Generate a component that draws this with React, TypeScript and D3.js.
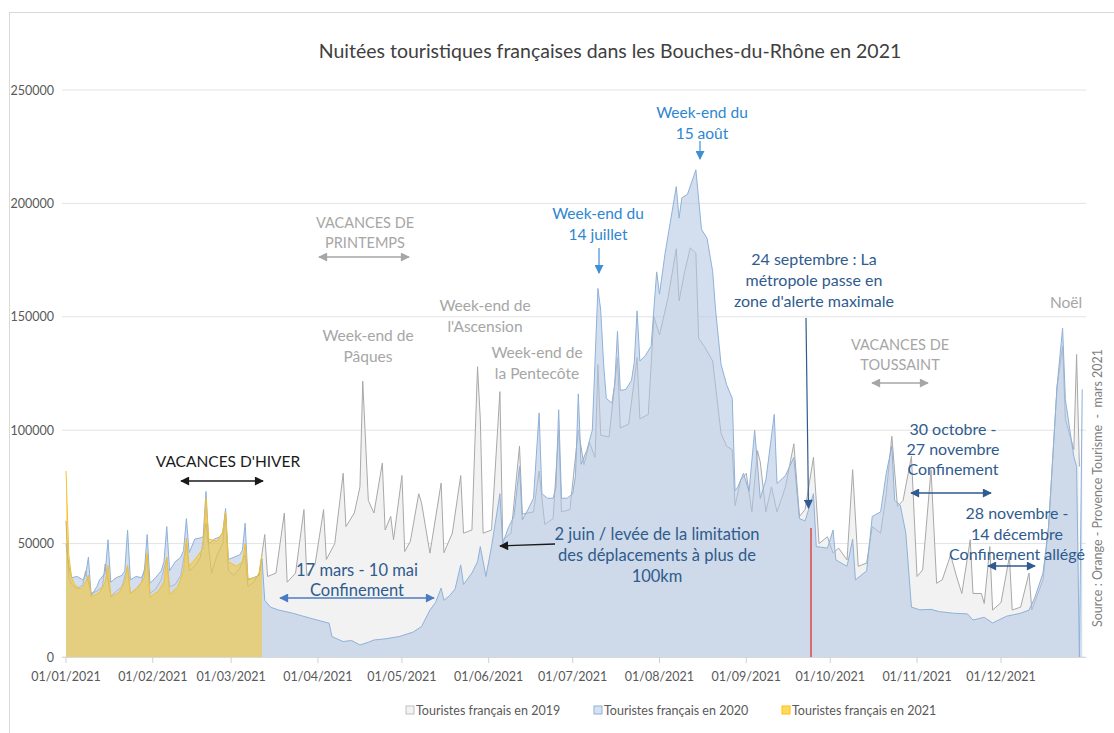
import { useMemo } from 'react';
import * as d3 from 'd3';

// [jour de l'année (0 = 01/01), nuitées]
const s2019: [number, number][] = [
  [0, 60000], [1, 35000], [2, 32000], [4, 30000], [6, 32000], [7, 38000], [9, 28000], [11, 29000], [13, 31000], [14, 41000],
  [16, 27000], [18, 29000], [20, 31000], [22, 40000], [23, 28000], [25, 30000], [27, 33000], [29, 44000], [30, 28000], [32, 30000],
  [34, 34000], [36, 44000], [37, 31000], [39, 32000], [41, 36000], [43, 50000], [44, 38000], [46, 40000], [48, 44000], [50, 59000],
  [52, 37000], [54, 45000], [56, 50000], [57, 63500], [58, 38000], [60, 36000], [62, 39000], [64, 45000], [65, 31000], [67, 33000],
  [69, 37000], [71, 54000], [72, 35500], [75, 37000], [78, 63500], [79, 33000], [82, 37000], [85, 65000], [86, 36000], [89, 41000],
  [92, 65000], [93, 43000], [96, 50000], [99, 81000], [100, 57500], [103, 63500], [105, 75000], [106, 121600], [108, 69000], [110, 63500],
  [113, 85500], [114, 56000], [116, 62000], [117, 51700], [120, 80000], [121, 46500], [123, 51000], [126, 72000], [127, 68000], [130, 45800],
  [134, 76700], [135, 46000], [138, 54600], [141, 80000], [142, 54600], [145, 56000], [147, 128000], [148, 104700], [149, 54600], [152, 56000],
  [155, 117000], [156, 51700], [159, 54600], [162, 93000], [163, 63000], [167, 64000], [169, 82000], [171, 58500], [174, 61000], [176, 100000],
  [177, 64000], [180, 65000], [183, 100000], [185, 84800], [187, 94600], [189, 88000], [190, 129000], [191, 97800], [194, 97000], [197, 132000],
  [198, 101000], [201, 102700], [204, 132000], [205, 105000], [208, 107000], [210, 150000], [212, 142000], [215, 158000], [218, 180000], [219, 157000],
  [221, 170000], [223, 180400], [225, 178000], [226, 140500], [228, 137000], [231, 130500], [233, 109000], [234, 98600], [236, 92900], [238, 91400],
  [239, 66700], [241, 78000], [243, 81000], [245, 64000], [247, 91000], [248, 86000], [250, 64000], [252, 75000], [254, 64000], [257, 75000],
  [260, 94000], [262, 62000], [264, 65000], [267, 88000], [269, 50000], [272, 53000], [274, 45800], [276, 48000], [279, 42800], [281, 82600],
  [283, 40000], [286, 41400], [288, 57500], [291, 54600], [293, 72000], [295, 97300], [297, 66400], [299, 69000], [302, 88500], [304, 35500],
  [306, 38400], [309, 82600], [311, 32500], [313, 34000], [316, 45000], [318, 36000], [320, 28000], [323, 51700], [324, 28000], [327, 28000],
  [328, 23600], [330, 48700], [331, 20700], [334, 24000], [337, 44300], [338, 20700], [341, 22000], [344, 37000], [345, 20800], [349, 34000],
  [351, 57500], [354, 119000], [356, 137000], [357, 104700], [360, 91500], [361, 133400], [362, 84000],
];

const s2020: [number, number][] = [
  [0, 50000], [1, 40000], [2, 35000], [4, 35500], [6, 34000], [7, 36000], [8, 44000], [9, 27000], [11, 31000], [12, 34000],
  [14, 37000], [15, 51700], [16, 33000], [18, 35000], [20, 36000], [21, 38000], [22, 56000], [23, 34000], [25, 35500], [27, 35000],
  [28, 38000], [29, 54000], [30, 32500], [32, 35000], [34, 38000], [35, 42000], [36, 57500], [37, 38000], [39, 42000], [41, 44000],
  [42, 47000], [43, 61000], [44, 46000], [46, 52000], [48, 52500], [49, 53000], [50, 73000], [51, 50000], [53, 52000], [55, 53000],
  [56, 55000], [57, 65500], [58, 43000], [60, 44000], [62, 45000], [63, 47000], [64, 59000], [65, 34000], [67, 35000], [69, 36000],
  [70, 43500], [71, 25000], [73, 22000], [76, 20700], [81, 19300], [87, 17200], [94, 14900], [95, 9000], [99, 6800], [102, 7300],
  [105, 5300], [108, 6500], [110, 7500], [114, 8000], [119, 9000], [124, 11000], [127, 13400], [130, 20700], [132, 24000], [134, 30400],
  [135, 25000], [137, 27000], [139, 30000], [141, 40600], [142, 32000], [145, 37000], [147, 42000], [148, 48700], [150, 35500], [152, 48700],
  [155, 72000], [156, 50000], [158, 57000], [160, 62000], [162, 84000], [163, 60500], [165, 65000], [167, 70000], [169, 107600], [170, 72000],
  [172, 70000], [174, 70000], [175, 75000], [176, 109000], [177, 70000], [179, 70000], [181, 72000], [182, 80000], [183, 116000], [184, 85000],
  [186, 91000], [188, 100000], [190, 162500], [191, 153000], [192, 130000], [193, 114000], [195, 112000], [196, 120000], [197, 143600], [198, 117500],
  [200, 118000], [202, 122000], [203, 130000], [204, 152600], [205, 130500], [207, 133000], [209, 137000], [211, 169800], [212, 160000], [214, 178000],
  [216, 192700], [218, 207400], [219, 193500], [220, 202500], [222, 204000], [225, 214800], [227, 188600], [229, 184600], [231, 170000], [232, 153500],
  [234, 129000], [236, 120000], [238, 114000], [239, 73300], [240, 75000], [242, 81000], [244, 73000], [246, 100000], [248, 70000], [250, 78000],
  [253, 107000], [254, 76500], [257, 80000], [260, 88000], [262, 61000], [264, 60000], [267, 72000], [268, 48700], [272, 48000], [274, 56000],
  [275, 42800], [279, 40000], [281, 52000], [282, 34000], [286, 38000], [288, 62000], [291, 64000], [293, 81000], [295, 93000], [296, 69000],
  [298, 67000], [300, 54600], [302, 22000], [305, 20800], [309, 21000], [312, 20000], [317, 19300], [322, 19000], [324, 16300], [328, 17500],
  [331, 15000], [336, 18000], [341, 19300], [344, 20700], [346, 26000], [349, 37000], [351, 57500], [354, 119000], [356, 145000], [357, 113500],
  [360, 88400], [361, 84000], [362, 0], [363, 118000],
];

const s2021: [number, number][] = [
  [0, 82000], [1, 45000], [2, 35000], [3, 32000], [5, 30000], [6, 31000], [7, 33000], [8, 36000], [9, 26500], [12, 28500],
  [14, 33000], [15, 40500], [16, 26500], [19, 28500], [21, 33000], [22, 40500], [23, 28000], [26, 31000], [28, 35000], [29, 46000],
  [30, 26500], [33, 29000], [35, 33000], [36, 44000], [37, 27500], [40, 31000], [42, 38000], [43, 52500], [44, 40000], [47, 44500],
  [49, 48000], [50, 70000], [51, 52000], [54, 51000], [56, 55000], [57, 64000], [58, 42000], [61, 40000], [63, 42000], [64, 50000],
  [65, 34500], [68, 35000], [69, 37000], [70, 45000],
];

const seriesNames = ['Touristes français en 2019', 'Touristes français en 2020', 'Touristes français en 2021'];
const yTicks = [0, 50000, 100000, 150000, 200000, 250000];

const FONT = 'Lato, "Open Sans", sans-serif';
const day = (d: number) => new Date(Date.UTC(2021, 0, 1 + d));

function Txt({ x, y, lines, color, size = 15.5, gap = 21 }: { x: number; y: number; lines: string[]; color: string; size?: number; gap?: number }) {
  return (
    <text x={x} y={y} textAnchor="middle" fill={color} fontSize={size} fontFamily={FONT}>
      {lines.map((l, i) => (
        <tspan key={i} x={x} dy={i === 0 ? 0 : gap}>{l}</tspan>
      ))}
    </text>
  );
}

export default function App() {
  const x = d3.scaleUtc().domain([day(0), day(364)]).range([66, 1085]);
  const y = d3.scaleLinear().domain([0, 250000]).range([657, 90]);

  const { area, line } = useMemo(() => {
    const area = d3.area<[number, number]>().x(d => x(day(d[0]))).y0(y(0)).y1(d => y(d[1]));
    const line = d3.line<[number, number]>().x(d => x(day(d[0]))).y(d => y(d[1]));
    return { area, line };
  }, []);

  const months = d3.utcMonth.range(day(0), day(365));
  const fmt = d3.utcFormat('%d/%m/%Y');

  const arrowDefs = [
    ['ar-black', '#1a1a1a'],
    ['ar-grey', '#a6a6a6'],
    ['ar-blue', '#4a7cc4'],
    ['ar-dark', '#2f5b8e'],
    ['ar-light', '#3f8fd4'],
  ];

  const dark = '#2f5b8e';
  const light = '#2e86d0';
  const grey = '#a6a6a6';

  return (
    <svg width={1114} height={733} style={{ position: 'absolute', left: 0, top: 0, background: '#fff' }}>
      <defs>
        {arrowDefs.map(([id, c]) => (
          <marker key={id} id={id} viewBox="0 0 10 10" refX="9" refY="5" markerWidth="10" markerHeight="9" markerUnits="userSpaceOnUse" orient="auto-start-reverse">
            <path d="M0,0 L10,5 L0,10 z" fill={c} />
          </marker>
        ))}
      </defs>

      <rect x={9.5} y={12.5} width={1200} height={800} fill="none" stroke="#d9d9d9" />

      <text x={610} y={58} textAnchor="middle" fontSize={19.5} fill="#404040" fontFamily={FONT}>
        Nuitées touristiques françaises dans les Bouches-du-Rhône en 2021
      </text>

      {/* grille + axe Y */}
      {yTicks.map(t => (
        <g key={t}>
          <line x1={62} x2={1086} y1={y(t)} y2={y(t)} stroke="#e3e3e3" strokeWidth={1} />
          <text x={54} y={y(t) + 4.5} textAnchor="end" fontSize={12.5} fill="#595959" fontFamily={FONT}>{d3.format('d')(t)}</text>
        </g>
      ))}

      {/* séries */}
      <path d={area(s2019) ?? ''} fill="#f2f2f2" />
      <path d={line(s2019) ?? ''} fill="none" stroke="#a8a8a8" strokeWidth={1} />
      <path d={area(s2020) ?? ''} fill="rgb(180,200,225)" fillOpacity={0.58} />
      <path d={line(s2020) ?? ''} fill="none" stroke="#8fb1da" strokeWidth={1} />
      <path d={area(s2021) ?? ''} fill="rgb(255,192,0)" fillOpacity={0.45} />
      <path d={line(s2021) ?? ''} fill="none" stroke="#f4c030" strokeWidth={1} />

      {/* axe X */}
      <line x1={62} x2={1086} y1={657.5} y2={657.5} stroke="#d9d9d9" />
      {months.map(m => (
        <g key={+m}>
          <line x1={x(m)} x2={x(m)} y1={657} y2={663} stroke="#d0d0d0" />
          <text x={x(m)} y={681} textAnchor="middle" fontSize={12.5} fill="#595959" fontFamily={FONT}>{fmt(m)}</text>
        </g>
      ))}

      {/* ligne rouge 24 septembre */}
      <line x1={811} x2={811} y1={528} y2={657} stroke="#e0302c" strokeWidth={1.3} />

      {/* annotations */}
      <text x={228} y={467} textAnchor="middle" fontSize={15.5} fill="#1a1a1a" fontFamily={FONT}>VACANCES D'HIVER</text>
      <line x1={181} x2={263} y1={481} y2={481} stroke="#1a1a1a" strokeWidth={1.3} markerStart="url(#ar-black)" markerEnd="url(#ar-black)" />

      <Txt x={365} y={228} lines={['VACANCES DE', 'PRINTEMPS']} color={grey} size={14.5} gap={20} />
      <line x1={319} x2={409} y1={257} y2={257} stroke={grey} strokeWidth={1.3} markerStart="url(#ar-grey)" markerEnd="url(#ar-grey)" />

      <Txt x={368} y={341} lines={['Week-end de', 'Pâques']} color={grey} />
      <Txt x={485} y={311} lines={['Week-end de', "l'Ascension"]} color={grey} />
      <Txt x={537} y={358} lines={['Week-end de', 'la Pentecôte']} color={grey} />

      <Txt x={598} y={219} lines={['Week-end du', '14 juillet']} color={light} />
      <line x1={599} x2={599} y1={248} y2={273} stroke="#3f8fd4" strokeWidth={1.2} markerEnd="url(#ar-light)" />
      <Txt x={702} y={118} lines={['Week-end du', '15 août']} color={light} />
      <line x1={700} x2={700} y1={141} y2={159} stroke="#3f8fd4" strokeWidth={1.2} markerEnd="url(#ar-light)" />

      <Txt x={814} y={265} lines={['24 septembre : La', 'métropole passe en', "zone d'alerte maximale"]} color={dark} size={16} />
      <line x1={806} x2={808.5} y1={318} y2={508} stroke={dark} strokeWidth={1.2} markerEnd="url(#ar-dark)" />

      <Txt x={900} y={350} lines={['VACANCES DE', 'TOUSSAINT']} color={grey} size={14.5} gap={20} />
      <line x1={872} x2={928} y1={383} y2={383} stroke={grey} strokeWidth={1.3} markerStart="url(#ar-grey)" markerEnd="url(#ar-grey)" />

      <Txt x={953} y={435} lines={['30 octobre -', '27 novembre', 'Confinement']} color={dark} size={16} gap={20} />
      <line x1={911} x2={991} y1={493} y2={493} stroke={dark} strokeWidth={1.3} markerStart="url(#ar-dark)" markerEnd="url(#ar-dark)" />

      <Txt x={1017} y={519} lines={['28 novembre -', '14 décembre', 'Confinement allégé']} color={dark} size={16} gap={20.5} />
      <line x1={988} x2={1035} y1={566} y2={566} stroke={dark} strokeWidth={1.3} markerStart="url(#ar-dark)" markerEnd="url(#ar-dark)" />

      <Txt x={1066} y={308} lines={['Noël']} color={grey} />

      <Txt x={657} y={540} lines={['2 juin / levée de la limitation', 'des déplacements à plus de', '100km']} color={dark} size={16.5} />
      <line x1={555} x2={500} y1={544} y2={546} stroke="#1a1a1a" strokeWidth={1.3} markerEnd="url(#ar-black)" />

      <Txt x={357} y={576} lines={['17 mars - 10 mai', 'Confinement']} color={dark} size={16.5} gap={20} />
      <line x1={280} x2={434} y1={598} y2={598} stroke="#4a7cc4" strokeWidth={1.3} markerStart="url(#ar-blue)" markerEnd="url(#ar-blue)" />

      <text transform="translate(1102,488) rotate(-90)" textAnchor="middle" fontSize={12.5} fill="#7f7f7f" fontFamily={FONT} style={{ whiteSpace: 'pre' }}>
        Source : Orange - Provence Tourisme  -  mars 2021
      </text>

      {/* légende */}
      {seriesNames.map((n, i) => {
        const lx = [406, 594, 782][i];
        const fills = ['#f2f2f2', '#d6e2f0', '#ffd966'];
        const strokes = ['#bfbfbf', '#8fb1da', '#ffc000'];
        return (
          <g key={n}>
            <rect x={lx} y={706} width={8} height={8} fill={fills[i]} stroke={strokes[i]} />
            <text x={lx + 10} y={715} fontSize={12.5} fill="#595959" fontFamily={FONT}>{n}</text>
          </g>
        );
      })}
    </svg>
  );
}
